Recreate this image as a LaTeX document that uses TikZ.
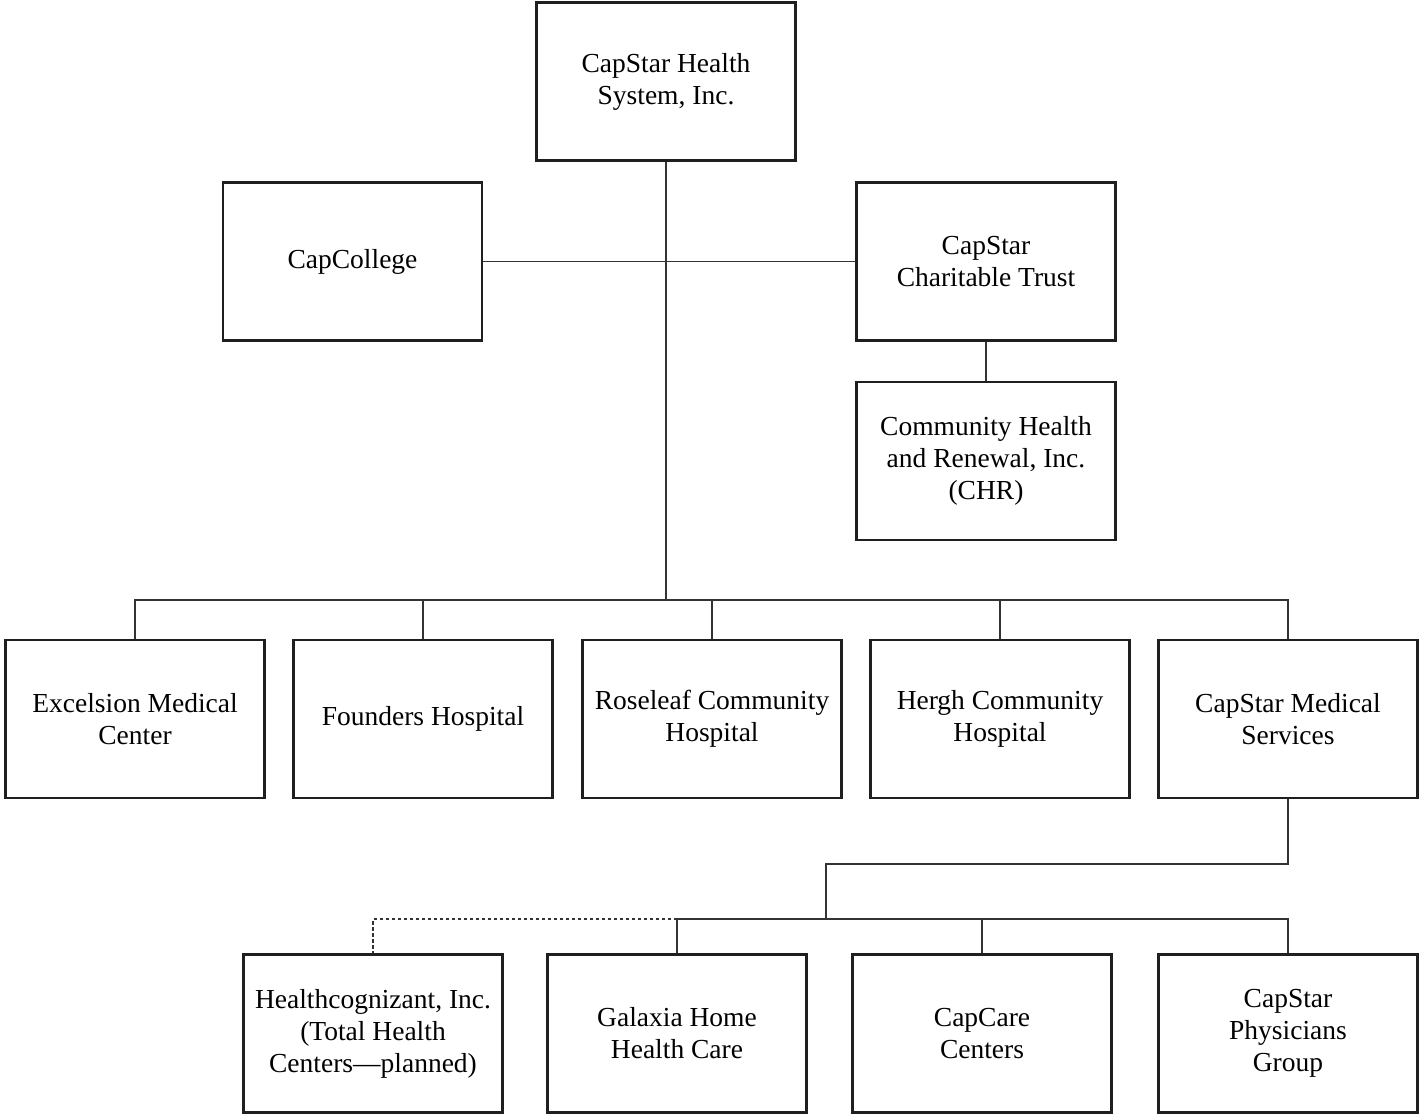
\documentclass[tikz,border=0pt]{standalone}
\usepackage{fontspec}
\setmainfont{Liberation Serif}
\begin{document}
\begin{tikzpicture}[x=1pt,y=-1pt,
  orgbox/.style={draw=black!88, line width=2.4pt, fill=white, minimum width=259pt, minimum height=158pt,
    align=center, inner sep=2pt, font=\fontsize{27.5}{32}\selectfont},
  link/.style={draw=black!80, line width=1.2pt},
  planned/.style={link, dash pattern=on 3.5pt off 2.5pt}]
\useasboundingbox (0,0) rectangle (1420,1116);
% top level and staff units
\node[orgbox] (sys) at (666,81.5) {CapStar Health\\System, Inc.};
\node[orgbox] (college) at (352.5,261.5) {CapCollege};
\node[orgbox] (trust) at (986,261.5) {CapStar\\Charitable Trust};
\node[orgbox] (chr) at (986,461) {Community Health\\and Renewal, Inc.\\(CHR)};
% hospitals and services
\node[orgbox] (exc) at (135,719) {Excelsion Medical\\Center};
\node[orgbox] (fnd) at (423,719) {Founders Hospital};
\node[orgbox] (ros) at (712,719) {Roseleaf Community\\Hospital};
\node[orgbox] (her) at (1000,719) {Hergh Community\\Hospital};
\node[orgbox] (cms) at (1288,719) {CapStar Medical\\Services};
% medical services subsidiaries
\node[orgbox] (hcg) at (373,1033.5) {Healthcognizant, Inc.\\(Total Health\\Centers---planned)};
\node[orgbox] (gal) at (677,1033.5) {Galaxia Home\\Health Care};
\node[orgbox] (ccc) at (982,1033.5) {CapCare\\Centers};
\node[orgbox] (phy) at (1288,1033.5) {CapStar\\Physicians\\Group};
% junction points
\coordinate (bus) at (666,600);
\coordinate (jog) at (826,864);
\coordinate (bus2) at (826,919);
% connectors
\draw[link] (sys.south) -- (bus);
\draw[link] (college.east) -- (trust.west);
\draw[link] (trust.south) -- (chr.north);
\foreach \n in {exc,fnd,ros,her,cms} \draw[link] (bus) -| (\n.north);
\draw[link] (cms.south) |- (jog) -- (bus2);
\foreach \n in {gal,ccc,phy} \draw[link] (bus2) -| (\n.north);
\draw[planned] (gal.north |- bus2) -| (hcg.north);
\end{tikzpicture}
\end{document}
